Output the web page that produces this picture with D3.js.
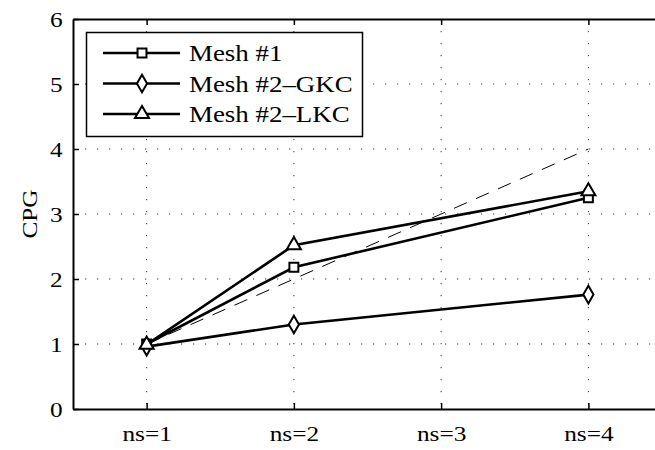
<!DOCTYPE html>
<html lang="en">
<head>
    <meta charset="UTF-8">
    <title>CPG</title>
    <style>
        body { margin: 0; background: #fff; }
        text { font-family: "Liberation Serif", "DejaVu Serif", serif; fill: #000; }
    </style>
</head>
<body>
    <div id="container">
        <svg width="655" height="450"></svg>
    </div>

    <script src="https://cdn.jsdelivr.net/npm/d3@7"></script>
    <script>
        // data
        const categories = ['ns=1', 'ns=2', 'ns=3', 'ns=4'];
        const xIdx = [1, 2, 4];
        const mesh1 = [1.00, 2.18, 3.25];
        const mesh2GKC = [0.96, 1.30, 1.76];
        const mesh2LKC = [0.99, 2.52, 3.35];
        const ideal = [[1, 1], [4, 4]];
        const yTicks = [0, 1, 2, 3, 4, 5, 6];
        const seriesNames = ['Mesh #1', 'Mesh #2\u2013GKC', 'Mesh #2\u2013LKC'];

        const svg = d3.select('svg');

        const plotLeft = 73, plotRight = 662, plotTop = 19, plotBottom = 409;
        // the original type is a bit wider than Liberation Serif
        const stretch = 'scale(1.15,1)';

        const xScale = d3.scaleLinear()
            .domain([0.5, 4.5])
            .range([plotLeft, plotRight]);

        const yScale = d3.scaleLinear()
            .domain([0, 6])
            .range([plotBottom, plotTop]);

        // dotted grid
        const grid = svg.append('g').attr('class', 'grid');
        grid.selectAll('line.gx')
            .data([1, 2, 3, 4])
            .enter().append('line')
            .attr('x1', d => xScale(d)).attr('x2', d => xScale(d))
            .attr('y1', plotTop).attr('y2', plotBottom)
            .attr('stroke', '#333').attr('stroke-width', 1)
            .attr('stroke-dasharray', '1.2,10.8');
        grid.selectAll('line.gy')
            .data(yTicks.slice(1, 6))
            .enter().append('line')
            .attr('x1', plotLeft).attr('x2', plotRight)
            .attr('y1', d => yScale(d)).attr('y2', d => yScale(d))
            .attr('stroke', '#333').attr('stroke-width', 1)
            .attr('stroke-dasharray', '1.2,10.8');

        // axes
        const xAxis = svg.append('g')
            .attr('transform', `translate(0, ${plotBottom})`)
            .call(d3.axisBottom(xScale)
                .tickValues([1, 2, 3, 4])
                .tickFormat((d, i) => categories[i])
                .tickSizeInner(-6).tickSizeOuter(0).tickPadding(16));
        xAxis.select('.domain').attr('stroke-width', 2.2);
        xAxis.selectAll('.tick line').attr('stroke-width', 1.5);
        xAxis.selectAll('text')
            .attr('font-size', 22)
            .attr('dy', '0.71em')
            .attr('transform', stretch);

        const xTop = svg.append('g')
            .attr('transform', `translate(0, ${plotTop})`)
            .call(d3.axisTop(xScale)
                .tickValues([1, 2, 3, 4])
                .tickFormat('')
                .tickSizeInner(-6).tickSizeOuter(0));
        xTop.select('.domain').attr('stroke-width', 2);
        xTop.selectAll('.tick line').attr('stroke-width', 1.5);

        const yAxis = svg.append('g')
            .attr('transform', `translate(${plotLeft}, 0)`)
            .call(d3.axisLeft(yScale)
                .tickValues(yTicks)
                .tickFormat(d3.format('d'))
                .tickSizeInner(-6).tickSizeOuter(0).tickPadding(9));
        yAxis.select('.domain').attr('stroke-width', 2);
        yAxis.selectAll('.tick line').attr('stroke-width', 1.5);
        yAxis.selectAll('text')
            .attr('font-size', 22)
            .attr('transform', stretch);

        svg.append('text')
            .attr('transform', `translate(37, ${(plotTop + plotBottom) / 2}) rotate(-90) ${stretch}`)
            .attr('text-anchor', 'middle')
            .attr('font-size', 22)
            .text('CPG');

        // ideal speedup, dashed
        svg.append('line')
            .attr('x1', xScale(ideal[0][0])).attr('y1', yScale(ideal[0][1]))
            .attr('x2', xScale(ideal[1][0])).attr('y2', yScale(ideal[1][1]))
            .attr('stroke', '#000').attr('stroke-width', 1)
            .attr('stroke-dasharray', '14,10');

        const line = d3.line()
            .x((d, i) => xScale(xIdx[i]))
            .y(d => yScale(d));

        const symbols = [
            d3.symbol().type(d3.symbolSquare).size(80),
            d3.symbol().type(d3.symbolDiamond).size(90),
            d3.symbol().type(d3.symbolTriangle).size(85)
        ];
        const allSeries = [mesh1, mesh2GKC, mesh2LKC];

        allSeries.forEach((vals, k) => {
            svg.append('path')
                .datum(vals)
                .attr('d', line)
                .attr('fill', 'none')
                .attr('stroke', '#000')
                .attr('stroke-width', 2.6);
            svg.selectAll(null)
                .data(vals)
                .enter().append('path')
                .attr('d', symbols[k])
                .attr('transform', (d, i) => `translate(${xScale(xIdx[i])}, ${yScale(d)})`)
                .attr('fill', '#fff')
                .attr('stroke', '#000')
                .attr('stroke-width', 2);
        });

        // legend
        const legend = svg.append('g');
        legend.append('rect')
            .attr('x', 86.5).attr('y', 32.5)
            .attr('width', 276).attr('height', 104)
            .attr('fill', '#fff')
            .attr('stroke', '#000').attr('stroke-width', 1.5);

        seriesNames.forEach((name, k) => {
            const y = 53 + k * 30.5;
            legend.append('line')
                .attr('x1', 103).attr('x2', 180)
                .attr('y1', y).attr('y2', y)
                .attr('stroke', '#000').attr('stroke-width', 2.6);
            legend.append('path')
                .attr('d', symbols[k])
                .attr('transform', `translate(142, ${y})`)
                .attr('fill', '#fff')
                .attr('stroke', '#000')
                .attr('stroke-width', 2);
            legend.append('text')
                .attr('transform', `translate(189, ${y}) scale(1.17,1)`)
                .attr('dy', '0.35em')
                .attr('font-size', 23)
                .text(name);
        });
    </script>
</body>
</html>
